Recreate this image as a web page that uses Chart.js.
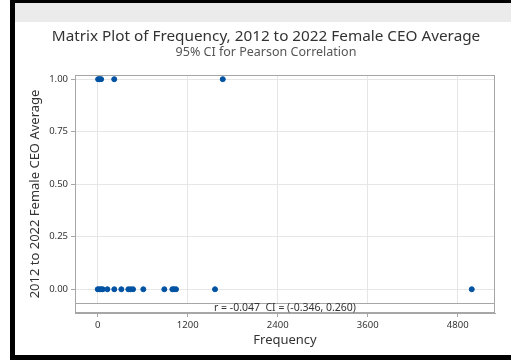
<!DOCTYPE html>
<html>
<head>
<meta charset="utf-8">
<script src="https://cdn.jsdelivr.net/npm/chart.js@4"></script>
<style>
  body { margin: 0; width: 511px; height: 360px; background: #fff; overflow: hidden; }
  #frame { position: absolute; left: 10px; top: 0; width: 501px; height: 360px; background: #000; }
  #inner { position: absolute; left: 5px; top: 3px; width: 496px; height: 352px; background: #fff; }
  #bar { height: 19px; background: #ebebeb; }
  #wrap { position: relative; width: 496px; height: 333px; }
</style>
</head>
<body>
<div id="frame">
  <div id="inner">
    <div id="bar"></div>
    <div id="wrap"><canvas id="chart"></canvas></div>
  </div>
</div>
<script>
const frequency = [5, 25, 45, 220, 1667,
  0, 21, 44, 67, 129, 221, 315, 408, 440, 471, 608, 888, 995, 1017, 1044, 1564, 4987];
const ceoAverage = [1, 1, 1, 1, 1,
  0, 0, 0, 0, 0, 0, 0, 0, 0, 0, 0, 0, 0, 0, 0, 0, 0];
const xTicks = [0, 1200, 2400, 3600, 4800];
const yTicks = [0, 0.25, 0.5, 0.75, 1];
const titleText = 'Matrix Plot of Frequency, 2012 to 2022 Female CEO Average';
const subtitleText = '95% CI for Pearson Correlation';
const corrText = 'r = -0.047  CI = (-0.346, 0.260)';

const font = "'Noto Sans', sans-serif";
const gridColor = '#e6e6e6';
const borderColor = '#a6a6a6';

// titles are centred on the whole window, not on the plot
const titles = {
  id: 'titles',
  afterDraw(chart) {
    const ctx = chart.ctx;
    const cx = chart.width / 2 + 3;
    ctx.save();
    ctx.textAlign = 'center';
    ctx.textBaseline = 'middle';
    ctx.fillStyle = '#333';
    ctx.font = "15.3px " + font;
    ctx.fillText(titleText, cx, 15);
    ctx.fillStyle = '#555';
    ctx.font = "12.5px " + font;
    ctx.fillText(subtitleText, cx, 30);
    ctx.restore();
  }
};

// bottom strip with the correlation text, plus the box round the plot
const corrStrip = {
  id: 'corrStrip',
  beforeDatasetsDraw(chart) {
    const { ctx, chartArea: a, scales } = chart;
    const yTop = Math.round(scales.y.getPixelForValue(-0.065)) + 0.5;
    ctx.save();
    ctx.fillStyle = '#fff';
    ctx.fillRect(a.left + 1, yTop, a.right - a.left - 2, a.bottom - yTop);
    ctx.strokeStyle = borderColor;
    ctx.lineWidth = 1;
    ctx.beginPath();
    ctx.moveTo(a.left, yTop);
    ctx.lineTo(a.right, yTop);
    ctx.stroke();
    ctx.strokeRect(Math.round(a.left) + 0.5, Math.round(a.top) + 0.5,
      Math.round(a.right - a.left) - 1, Math.round(a.bottom - a.top) - 1);
    ctx.fillStyle = '#333';
    ctx.font = "10.5px " + font;
    ctx.textAlign = 'center';
    ctx.textBaseline = 'middle';
    ctx.fillText(corrText, (a.left + a.right) / 2, (yTop + a.bottom) / 2);
    ctx.restore();
  }
};

new Chart(document.getElementById('chart'), {
  type: 'scatter',
  data: {
    datasets: [{
      data: frequency.map((f, i) => ({ x: f, y: ceoAverage[i] })),
      backgroundColor: '#0052a3',
      borderColor: '#0052a3',
      pointRadius: 2.5,
      pointHoverRadius: 2.5
    }]
  },
  options: {
    responsive: true,
    maintainAspectRatio: false,
    animation: false,
    layout: { padding: { left: 0, right: 16, top: 53, bottom: 0 } },
    plugins: {
      legend: { display: false },
      tooltip: { enabled: false }
    },
    scales: {
      x: {
        type: 'linear',
        min: -303,
        max: 5297,
        afterBuildTicks: s => { s.ticks = xTicks.map(v => ({ value: v })); },
        afterFit: s => { s.height = 42; },
        grid: { color: gridColor, tickColor: borderColor, tickLength: 4 },
        border: { color: borderColor },
        ticks: { color: '#333', font: { family: font, size: 9.5 }, padding: 3, maxRotation: 0, callback: v => String(v) },
        title: { display: true, text: 'Frequency', color: '#333', font: { family: font, size: 13 }, padding: { top: 2, bottom: 7 } }
      },
      y: {
        min: -0.113,
        max: 1.02,
        afterBuildTicks: s => { s.ticks = yTicks.map(v => ({ value: v })); },
        afterFit: s => { s.width = 60; },
        grid: { color: gridColor, tickColor: borderColor, tickLength: 4 },
        border: { color: borderColor },
        ticks: { color: '#333', font: { family: font, size: 9.5 }, padding: 3, callback: v => v.toFixed(2) },
        title: { display: true, text: '2012 to 2022 Female CEO Average', color: '#333', font: { family: font, size: 13 }, padding: { top: 12, bottom: 4 } }
      }
    }
  },
  plugins: [titles, corrStrip]
});
</script>
</body>
</html>
